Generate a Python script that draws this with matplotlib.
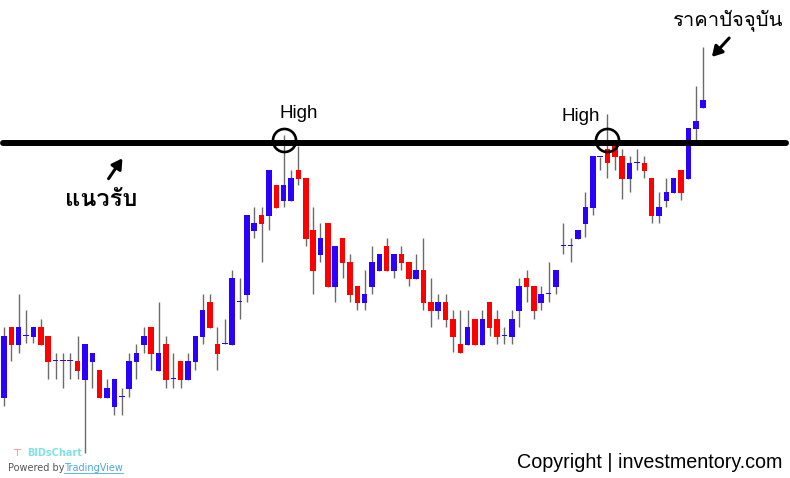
import numpy as np
import matplotlib
matplotlib.use('Agg')
import matplotlib.pyplot as plt
from matplotlib import font_manager
from matplotlib.ft2font import FT2Font

# OHLC (price units)
opens = [10.2, 17.3, 15.5, 16.4, 16.3, 17.3, 16.4, 13.9, 13.9, 13.9, 13.9, 12.0, 13.8, 13.0, 10.2, 9.3,
         10.3, 11.1, 13.8, 15.5, 17.3, 12.9, 15.6, 12.1, 13.9, 12.0, 13.8, 16.3, 19.8, 15.6, 15.6, 15.5,
         19.8, 20.5, 26.9, 28.5, 28.4, 31.5, 29.9, 29.9, 33.0, 32.2, 27.0, 24.5, 27.7, 21.3, 26.2, 23.8,
         21.4, 19.7, 21.3, 22.9, 25.4, 22.9, 24.6, 23.8, 22.1, 23.0, 19.8, 18.9, 19.8, 18.1, 15.6, 15.5,
         18.1, 15.5, 19.8, 18.1, 16.4, 16.3, 18.9, 22.2, 21.4, 19.7, 20.6, 21.3, 25.4, 25.4, 26.1, 27.6,
         29.2, 34.3, 35.1, 35.5, 34.4, 32.1, 33.7, 33.7, 32.2, 28.4, 29.9, 30.7, 33.0, 32.1, 37.1, 39.2]
highs = [17.3, 17.3, 20.6, 19.0, 17.3, 18.1, 16.4, 14.7, 14.7, 14.7, 16.4, 15.6, 14.7, 13.0, 12.1, 12.1,
         11.2, 14.7, 15.6, 17.3, 17.3, 19.8, 16.4, 14.7, 13.9, 14.7, 16.4, 20.6, 20.6, 17.3, 18.1, 23.0,
         22.2, 28.5, 29.3, 29.3, 33.0, 31.5, 36.5, 33.0, 35.4, 32.2, 29.3, 27.7, 27.7, 25.4, 26.2, 24.6,
         21.4, 23.0, 25.4, 24.6, 26.2, 24.6, 25.4, 23.8, 24.6, 26.2, 22.2, 20.6, 20.6, 19.0, 19.0, 19.0,
         18.1, 19.0, 19.8, 19.0, 17.3, 19.0, 22.2, 23.0, 21.4, 21.4, 23.8, 23.0, 27.7, 26.2, 27.0, 30.8,
         34.4, 34.3, 38.6, 35.5, 35.1, 34.4, 35.1, 34.4, 32.2, 30.8, 32.2, 32.2, 33.0, 37.2, 41.4, 45.3]
lows = [9.4, 13.9, 14.7, 15.7, 15.7, 15.5, 12.1, 12.1, 11.2, 12.1, 12.1, 4.7, 11.2, 10.2, 10.2, 8.5,
        8.5, 10.3, 12.1, 14.7, 13.0, 12.9, 11.2, 11.2, 11.2, 12.0, 13.0, 15.6, 17.2, 13.0, 15.6, 15.5,
        18.1, 19.8, 26.2, 23.8, 27.0, 29.2, 29.3, 29.9, 31.5, 25.4, 20.6, 23.8, 21.3, 19.8, 22.2, 19.8,
        19.0, 19.0, 20.6, 22.9, 22.9, 22.2, 23.0, 21.4, 22.1, 19.0, 17.3, 18.1, 17.3, 14.8, 14.7, 15.5,
        15.5, 15.5, 16.4, 15.6, 15.6, 15.6, 17.3, 19.8, 18.1, 19.0, 19.8, 20.6, 24.6, 23.8, 26.1, 26.3,
        28.5, 33.0, 32.2, 33.0, 30.1, 30.8, 33.0, 32.2, 27.7, 27.7, 29.3, 30.7, 30.0, 32.1, 36.0, 39.2]
closes = [16.4, 15.5, 17.3, 16.4, 17.3, 15.5, 13.8, 13.9, 13.9, 13.9, 12.9, 15.6, 14.7, 10.2, 11.2, 12.1,
          10.3, 13.9, 14.7, 16.4, 14.6, 14.7, 12.0, 12.1, 12.0, 13.9, 16.4, 19.0, 17.2, 14.6, 15.6, 22.2,
          19.8, 28.5, 27.7, 27.6, 33.0, 29.2, 31.5, 32.2, 32.1, 26.1, 22.9, 26.2, 21.3, 25.4, 23.7, 20.5,
          19.7, 20.6, 23.8, 24.6, 22.9, 24.6, 23.7, 22.1, 23.0, 19.7, 18.9, 19.8, 18.0, 16.3, 14.7, 17.3,
          15.5, 18.1, 17.2, 16.3, 16.4, 18.1, 21.4, 21.3, 18.9, 20.6, 20.6, 23.0, 25.4, 25.4, 27.0, 29.3,
          34.4, 34.3, 33.7, 34.3, 32.1, 33.7, 33.7, 32.9, 28.4, 29.3, 30.8, 32.2, 30.7, 37.2, 37.9, 40.0]

support = 35.7
high_points = [38, 82]   # candles circled as "High"

UP = '#2a00ff'
DOWN = '#ff0000'
W = 790
H = 478


def thai_font():
    for f in font_manager.fontManager.ttflist:
        try:
            if 0x0E23 in FT2Font(f.fname).get_charmap():
                return f.name
        except Exception:
            pass
    return 'DejaVu Sans'


thai = [thai_font(), 'DejaVu Sans']

o = np.array(opens)
c = np.array(closes)
x = np.arange(len(o))
colors = np.where(c >= o, UP, DOWN)

fig = plt.figure(figsize=(W / 100, H / 100), dpi=100)
ax = fig.add_axes([0, 0, 1, 1])
ax.set_xlim(-0.544, 106.8)
ax.set_ylim(2.2, 50)
ax.axis('off')

ax.vlines(x, lows, highs, color='#6b6b6b', lw=1, zorder=1)
body = np.maximum(np.abs(c - o), 0.12)
ax.bar(x, body, bottom=np.minimum(o, c), width=0.75, color=colors, zorder=2)

ax.axhline(support, xmin=0.004, xmax=0.995, color='black', lw=4.3,
           solid_capstyle='round', zorder=3)

ax.plot(x[high_points], [support + 0.3] * len(high_points), 'o', ms=16.6,
        mfc='none', mec='black', mew=1.9, zorder=4)

ax.annotate('High', (high_points[0], support), xytext=(11, 21), textcoords='offset points',
            ha='center', va='center', fontsize=13.5, family='Liberation Sans')
ax.annotate('High', (high_points[1], support), xytext=(-19, 19), textcoords='offset points',
            ha='center', va='center', fontsize=13.5, family='Liberation Sans')


def fx(px):
    return px / W


def fy(py):
    return 1 - py / H


fig.text(fx(101), fy(199), 'แนวรับ', ha='center', va='center', fontsize=17,
         fontweight='bold', family=thai)
fig.text(fx(728.5), fy(20), 'ราคาปัจจุบัน', ha='center', va='center', fontsize=14.5, family=thai)

arrow = dict(arrowstyle='-|>,head_length=0.6,head_width=0.35', color='black', lw=2.2)
ax.annotate('', xy=(fx(124), fy(156)), xycoords='figure fraction',
            xytext=(fx(107), fy(181)), textcoords='figure fraction', arrowprops=arrow)
ax.annotate('', xy=(fx(710), fy(59)), xycoords='figure fraction',
            xytext=(fx(731), fy(36)), textcoords='figure fraction', arrowprops=arrow)

fig.text(fx(782), fy(462), 'Copyright | investmentory.com', ha='right', va='center',
         fontsize=14.2, family='Liberation Sans')

fig.text(fx(12), fy(453), '⊤', ha='left', va='center', fontsize=7, color='#f4a0a0',
         fontweight='bold')
fig.text(fx(27), fy(453), 'BIDsChart', ha='left', va='center', fontsize=7, color='#7fe3e3',
         fontweight='bold')
fig.text(fx(8), fy(468), 'Powered by', ha='left', va='center', fontsize=7, color='#555555')
fig.text(fx(64), fy(468), 'TradingView', ha='left', va='center', fontsize=7, color='#4aa8e0')
ax.plot([fx(64), fx(123)], [fy(473), fy(473)], transform=fig.transFigure, color='#4aa8e0', lw=0.6)

fig.savefig('out.png', dpi=100)
